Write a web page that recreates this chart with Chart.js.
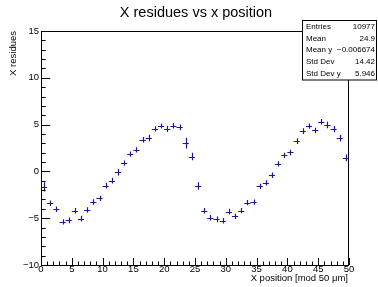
<!DOCTYPE html>
<html>
<head>
<meta charset="utf-8">
<script src="https://cdn.jsdelivr.net/npm/chart.js@4.4.1/dist/chart.umd.min.js"></script>
<style>
  html, body { margin: 0; padding: 0; background: #fff; }
  #wrap { width: 378px; height: 287px; }
</style>
</head>
<body>
<div id="wrap"><canvas id="chart" width="378" height="287"></canvas></div>
<script>
// bin centres of the profile (x position mod 50 um)
const binCenters = [
  0.5, 1.5, 2.5, 3.5, 4.5, 5.5, 6.5, 7.5, 8.5, 9.5,
  10.5, 11.5, 12.5, 13.5, 14.5, 15.5, 16.5, 17.5, 18.5, 19.5,
  20.5, 21.5, 22.5, 23.5, 24.5, 25.5, 26.5, 27.5, 28.5, 29.5,
  30.5, 31.5, 32.5, 33.5, 34.5, 35.5, 36.5, 37.5, 38.5, 39.5,
  40.5, 41.5, 42.5, 43.5, 44.5, 45.5, 46.5, 47.5, 48.5, 49.5
];
const residues = [
  -1.65, -3.4, -4.05, -5.38, -5.23, -4.2, -5.05, -4.13, -3.27, -2.87,
  -1.52, -0.98, -0.09, 0.88, 1.84, 2.3, 3.38, 3.56, 4.55, 4.84,
  4.55, 4.88, 4.7, 3.02, 1.59, -1.55, -4.2, -4.95, -5.13, -5.27,
  -4.3, -4.8, -4.2, -3.34, -3.27, -1.59, -1.23, -0.41, 0.8, 1.7,
  2.02, 3.24, 4.3, 4.84, 4.37, 5.3, 4.95, 4.52, 3.56, 1.45
];
const residueErrors = [
  0.5, 0.3, 0.3, 0.28, 0.3, 0.3, 0.3, 0.3, 0.3, 0.28,
  0.3, 0.3, 0.35, 0.28, 0.28, 0.28, 0.3, 0.35, 0.28, 0.27,
  0.34, 0.3, 0.3, 0.57, 0.4, 0.4, 0.3, 0.3, 0.3, 0.3,
  0.3, 0.28, 0.28, 0.28, 0.28, 0.28, 0.28, 0.3, 0.28, 0.28,
  0.3, 0.3, 0.3, 0.28, 0.3, 0.3, 0.35, 0.33, 0.36, 0.36
];
const binHalfWidth = 0.5;

const xTicks = [0, 5, 10, 15, 20, 25, 30, 35, 40, 45, 50];
const yTicks = [-10, -5, 0, 5, 10, 15];

const statsLabels = ['Entries', 'Mean', 'Mean y', 'Std Dev', 'Std Dev y'];
const statsValues = ['10977', '24.9', '\u22120.006674', '14.42', '5.946'];

const FONT = '"Liberation Sans", Arial, Helvetica, sans-serif';
const MARKER = 'rgb(24,24,150)';

// ROOT-like frame, inner ticks, error crosses, titles and stats box
const rootStyle = {
  id: 'rootStyle',
  afterDatasetsDraw(chart) {
    const ctx = chart.ctx;
    const a = chart.chartArea;
    const xs = chart.scales.x, ys = chart.scales.y;
    ctx.save();

    // error bars
    ctx.strokeStyle = MARKER;
    ctx.lineWidth = 1.2;
    ctx.beginPath();
    binCenters.forEach((bx, i) => {
      const px = Math.round(xs.getPixelForValue(bx)) + 0.5;
      const py = Math.round(ys.getPixelForValue(residues[i])) + 0.5;
      const x1 = xs.getPixelForValue(bx - binHalfWidth);
      const x2 = xs.getPixelForValue(bx + binHalfWidth);
      const y1 = ys.getPixelForValue(residues[i] + residueErrors[i]);
      const y2 = ys.getPixelForValue(residues[i] - residueErrors[i]);
      ctx.moveTo(x1, py); ctx.lineTo(x2, py);
      ctx.moveTo(px, y1); ctx.lineTo(px, y2);
    });
    ctx.stroke();

    // frame
    ctx.strokeStyle = '#000';
    ctx.lineWidth = 1;
    ctx.strokeRect(Math.round(a.left) + 0.5, Math.round(a.top) + 0.5,
      Math.round(a.right - a.left) - 1, Math.round(a.bottom - a.top));

    // inner ticks
    ctx.beginPath();
    const yMajor = (a.right - a.left) * 0.03;
    for (let v = -10; v <= 15; v++) {
      const py = Math.round(ys.getPixelForValue(v)) + 0.5;
      const len = v % 5 === 0 ? yMajor : yMajor / 2;
      ctx.moveTo(a.left, py); ctx.lineTo(a.left + len, py);
    }
    const xMajor = (a.bottom - a.top) * 0.03;
    for (let v = 0; v <= 50; v++) {
      const px = Math.round(xs.getPixelForValue(v)) + 0.5;
      const len = v % 5 === 0 ? xMajor : xMajor / 2;
      ctx.moveTo(px, a.bottom); ctx.lineTo(px, a.bottom - len);
    }
    ctx.stroke();

    // title
    ctx.fillStyle = '#000';
    ctx.font = '14.5px ' + FONT;
    ctx.textAlign = 'center';
    ctx.textBaseline = 'alphabetic';
    ctx.fillText('X residues vs x position', 196, 17);

    // axis titles
    ctx.font = '9.5px ' + FONT;
    ctx.textAlign = 'right';
    ctx.fillText('X position [mod 50 \u03bcm]', a.right - 1, 281);
    ctx.save();
    ctx.translate(16, a.top);
    ctx.rotate(-Math.PI / 2);
    ctx.textAlign = 'right';
    ctx.fillText('X residues', 0, 0);
    ctx.restore();

    // stats box
    const bx = 302, by = 20.5, bw = 75, bh = 59.5;
    ctx.fillStyle = '#fff';
    ctx.fillRect(bx, by, bw, bh);
    ctx.strokeStyle = '#000';
    ctx.strokeRect(bx + 0.5, by, bw - 1, bh);
    ctx.fillStyle = '#000';
    ctx.font = '8px ' + FONT;
    ctx.textBaseline = 'middle';
    const rowH = bh / statsLabels.length;
    statsLabels.forEach((lab, i) => {
      const cy = by + rowH * (i + 0.5);
      ctx.textAlign = 'left';
      ctx.fillText(lab, bx + 4, cy);
      ctx.textAlign = 'right';
      ctx.fillText(statsValues[i], bx + bw - 2, cy);
    });

    ctx.restore();
  }
};

const fmt = v => (v < 0 ? '\u2212' + Math.abs(v) : String(v));

new Chart(document.getElementById('chart'), {
  type: 'scatter',
  data: {
    datasets: [{
      label: 'X residues',
      data: binCenters.map((x, i) => ({ x: x, y: residues[i] })),
      pointRadius: 0,
      showLine: false
    }]
  },
  options: {
    responsive: false,
    animation: false,
    devicePixelRatio: 1,
    layout: { padding: { top: 31, right: 29, left: 0, bottom: 0 } },
    plugins: {
      legend: { display: false },
      tooltip: { enabled: false },
      title: { display: false }
    },
    scales: {
      x: {
        type: 'linear',
        min: 0,
        max: 50,
        afterBuildTicks: s => { s.ticks = xTicks.map(v => ({ value: v })); },
        afterFit: s => { s.height = 22; },
        grid: { display: false, drawTicks: false },
        border: { display: false },
        ticks: {
          padding: -1,
          maxRotation: 0,
          autoSkip: false,
          color: '#000',
          font: { family: FONT, size: 9.5 },
          callback: fmt
        }
      },
      y: {
        min: -10,
        max: 15,
        afterBuildTicks: s => { s.ticks = yTicks.map(v => ({ value: v })); },
        afterFit: s => { s.width = 41; },
        grid: { display: false, drawTicks: false },
        border: { display: false },
        ticks: {
          padding: 2,
          autoSkip: false,
          color: '#000',
          font: { family: FONT, size: 9.5 },
          callback: fmt
        }
      }
    }
  },
  plugins: [rootStyle]
});
</script>
</body>
</html>
